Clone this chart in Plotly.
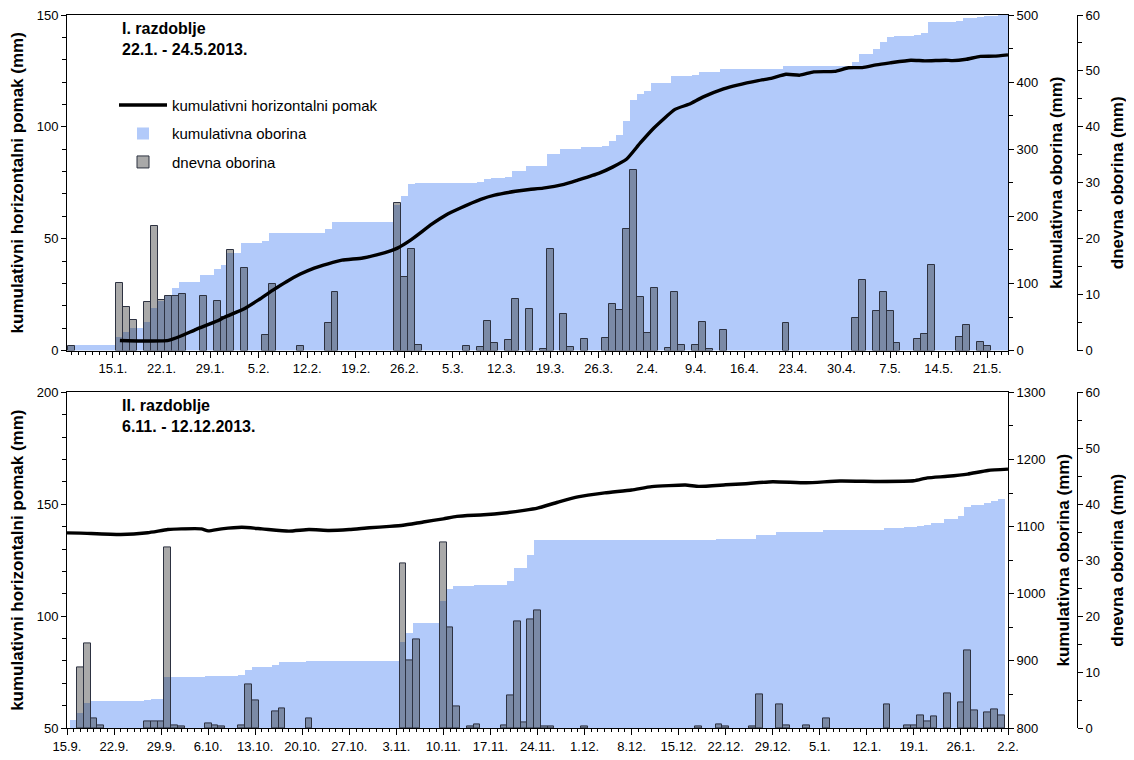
import plotly.graph_objects as go
import pandas as pd

# ---------------- Period I (2013) ----------------
p1_cum_start = "2013-01-09"
p1_cum = [
    # Jan 9-31
    8.0, 8.0, 8.0, 8.0, 8.0, 8.0, 8.0, 20.0, 27.8, 33.2, 33.2, 41.9, 64.2, 73.2, 82.9, 92.6,
    102.7, 102.7, 102.7, 112.4, 112.4, 121.3, 127.3,
    # Feb
    145.3, 145.3, 160.1, 160.1, 160.1, 162.9, 174.8, 174.8, 174.8, 174.8, 175.6, 175.6, 175.6, 175.6,
    180.5, 190.9, 190.9, 190.9, 190.9, 190.9, 190.9, 190.9, 190.9, 190.9, 217.2, 230.3, 248.4, 249.4,
    # Mar
    249.4, 249.4, 249.4, 249.4, 249.4, 249.4, 250.3, 250.3, 250.9, 255.5, 256.5, 256.5, 258.5, 267.5,
    267.5, 275.0, 275.0, 275.3, 293.0, 293.0, 299.8, 300.4, 300.4, 302.6, 302.6, 302.6, 305.0, 313.0,
    320.5, 342.0, 373.0,
    # Apr
    383.0, 386.5, 398.0, 398.0, 398.4, 408.5, 409.5, 409.5, 410.5, 415.5, 415.7, 415.7, 419.3, 419.3,
    419.3, 419.3, 419.3, 419.3, 419.3, 419.3, 419.3, 424.2, 424.2, 424.2, 424.2, 424.2, 424.2, 424.2,
    424.2, 424.2,
    # May 1-24
    424.2, 430.0, 442.6, 442.6, 449.8, 460.2, 467.0, 468.6, 468.6, 468.6, 470.8, 473.6, 489.0, 489.0,
    489.0, 489.0, 491.4, 496.0, 496.0, 497.6, 498.6, 499.2, 499.6, 500.0,
]
p1_daily_dates = [
    "2013-01-09", "2013-01-16", "2013-01-17", "2013-01-18", "2013-01-20", "2013-01-21", "2013-01-22",
    "2013-01-23", "2013-01-24", "2013-01-25", "2013-01-28", "2013-01-30", "2013-01-31", "2013-02-01",
    "2013-02-03", "2013-02-06", "2013-02-07", "2013-02-11", "2013-02-15", "2013-02-16", "2013-02-25",
    "2013-02-26", "2013-02-27", "2013-02-28", "2013-03-07", "2013-03-09", "2013-03-10", "2013-03-11",
    "2013-03-13", "2013-03-14", "2013-03-16", "2013-03-18", "2013-03-19", "2013-03-21", "2013-03-22",
    "2013-03-24", "2013-03-27", "2013-03-28", "2013-03-29", "2013-03-30", "2013-03-31", "2013-04-01",
    "2013-04-02", "2013-04-03", "2013-04-05", "2013-04-06", "2013-04-07", "2013-04-09", "2013-04-10",
    "2013-04-11", "2013-04-13", "2013-04-22", "2013-05-02", "2013-05-03", "2013-05-05", "2013-05-06",
    "2013-05-07", "2013-05-08", "2013-05-11", "2013-05-12", "2013-05-13", "2013-05-17", "2013-05-18",
    "2013-05-20", "2013-05-21",
]
p1_daily = [
    0.8, 12.0, 7.8, 5.4, 8.7, 22.3, 9.0,
    9.7, 9.7, 10.1, 9.7, 8.9, 6.0, 18.0,
    14.8, 2.8, 11.9, 0.8, 4.9, 10.4, 26.3,
    13.1, 18.1, 1.0, 0.9, 0.6, 5.3, 1.3,
    1.9, 9.2, 7.5, 0.3, 18.1, 6.6, 0.6,
    2.0, 2.3, 8.4, 7.3, 21.7, 32.2, 9.6,
    3.2, 11.2, 0.4, 10.4, 1.0, 1.0, 5.2,
    0.2, 3.7, 4.9, 5.9, 12.6, 7.1, 10.4,
    7.0, 1.4, 2.1, 3.0, 15.3, 2.4, 4.6,
    1.6, 0.9,
]
p1_disp_dates = [
    "2013-01-16", "2013-01-19", "2013-01-23", "2013-01-25", "2013-01-27", "2013-01-30", "2013-01-31",
    "2013-02-03", "2013-02-05", "2013-02-07", "2013-02-09", "2013-02-11", "2013-02-13", "2013-02-15",
    "2013-02-17", "2013-02-20", "2013-02-22", "2013-02-24", "2013-02-25", "2013-02-27", "2013-03-02",
    "2013-03-04", "2013-03-06", "2013-03-09", "2013-03-11", "2013-03-14", "2013-03-16", "2013-03-18",
    "2013-03-21", "2013-03-23", "2013-03-26", "2013-03-28", "2013-03-30", "2013-04-01", "2013-04-03",
    "2013-04-06", "2013-04-08", "2013-04-10", "2013-04-13", "2013-04-15", "2013-04-18", "2013-04-20",
    "2013-04-22", "2013-04-24", "2013-04-26", "2013-04-29", "2013-05-01", "2013-05-03", "2013-05-05",
    "2013-05-07", "2013-05-10", "2013-05-12", "2013-05-15", "2013-05-16", "2013-05-18", "2013-05-20",
    "2013-05-22", "2013-05-24",
]
p1_disp = [
    4.5, 4.3, 4.6, 6.8, 9.5, 13.2, 14.8,
    18.8, 22.7, 26.9, 30.8, 34.2, 36.9, 38.8,
    40.4, 41.4, 42.8, 44.6, 45.8, 49.6, 56.6,
    60.6, 63.6, 67.6, 69.5, 71.2, 72.0, 72.6,
    74.3, 76.2, 79.2, 82.0, 85.5, 92.8, 99.6,
    107.8, 110.1, 113.3, 117.0, 118.7, 120.7, 121.8,
    123.5, 123.1, 124.6, 124.8, 126.4, 126.5, 127.7,
    128.6, 129.8, 129.5, 129.8, 129.6, 130.2, 131.5,
    131.6, 132.2,
]

# ---------------- Period II (2013/2014) ----------------
p2_cum_start = "2013-09-16"
p2_cum = [
    # Sep 16-30
    812.0, 822.0, 837.0, 839.0, 839.5, 839.5, 839.5, 839.5, 839.5, 839.5, 839.5, 840.7, 841.9, 843.0, 875.2,
    # Oct
    875.7, 876.0, 876.0, 876.0, 876.0, 876.8, 877.3, 877.5, 877.5, 877.5, 878.0, 885.8, 890.7, 890.7,
    890.7, 893.6, 897.1, 897.1, 897.1, 897.1, 898.8, 898.8, 898.8, 898.8, 898.8, 898.8, 898.8, 898.8,
    898.8, 898.8, 898.8,
    # Nov
    898.8, 898.8, 898.8, 928.2, 940.3, 956.1, 956.1, 956.1, 956.1, 989.2, 1007.2, 1011.1, 1011.1, 1011.3,
    1011.9, 1011.9, 1011.9, 1011.9, 1012.3, 1018.2, 1037.3, 1038.3, 1057.7, 1078.8, 1079.0, 1079.2,
    1079.2, 1079.2, 1079.2, 1079.2,
    # Dec
    1079.4, 1079.4, 1079.4, 1079.4, 1079.4, 1079.4, 1079.4, 1079.4, 1079.4, 1079.4, 1079.4, 1079.4,
    1079.4, 1079.4, 1079.4, 1079.4, 1079.4, 1079.7, 1079.7, 1079.7, 1080.3, 1080.6, 1080.6, 1080.6,
    1080.6, 1080.8, 1086.8, 1086.8, 1086.8, 1091.0, 1091.5,
    # Jan
    1091.5, 1091.5, 1092.0, 1092.0, 1092.0, 1093.7, 1093.7, 1093.7, 1093.7, 1093.7, 1093.7, 1093.7,
    1093.7, 1093.7, 1097.9, 1097.9, 1097.9, 1098.3, 1098.8, 1101.1, 1102.2, 1104.2, 1104.2, 1110.4,
    1110.4, 1115.0, 1128.9, 1132.0, 1132.0, 1134.8, 1138.1,
    # Feb 1
    1140.4,
]
p2_daily_dates = [
    "2013-09-17", "2013-09-18", "2013-09-19", "2013-09-20", "2013-09-27", "2013-09-28", "2013-09-29",
    "2013-09-30", "2013-10-01", "2013-10-02", "2013-10-06", "2013-10-07", "2013-10-08", "2013-10-11",
    "2013-10-12", "2013-10-13", "2013-10-16", "2013-10-17", "2013-10-21", "2013-11-04", "2013-11-05",
    "2013-11-06", "2013-11-10", "2013-11-11", "2013-11-12", "2013-11-14", "2013-11-15", "2013-11-19",
    "2013-11-20", "2013-11-21", "2013-11-22", "2013-11-23", "2013-11-24", "2013-11-25", "2013-11-26",
    "2013-12-01", "2013-12-18", "2013-12-21", "2013-12-22", "2013-12-26", "2013-12-27", "2013-12-30",
    "2013-12-31", "2014-01-03", "2014-01-06", "2014-01-15", "2014-01-18", "2014-01-19", "2014-01-20",
    "2014-01-21", "2014-01-22", "2014-01-24", "2014-01-26", "2014-01-27", "2014-01-28", "2014-01-30",
    "2014-01-31", "2014-02-01",
]
p2_daily = [
    10.8, 15.1, 1.8, 0.5, 1.2, 1.2, 1.1,
    32.2, 0.5, 0.25, 0.8, 0.5, 0.2, 0.5,
    7.8, 4.9, 2.9, 3.5, 1.7, 29.4, 12.0,
    15.8, 33.1, 18.0, 3.9, 0.2, 0.6, 0.4,
    5.9, 19.1, 1.0, 19.4, 21.1, 0.2, 0.2,
    0.2, 0.3, 0.6, 0.3, 0.2, 6.0, 4.2,
    0.5, 0.5, 1.7, 4.2, 0.4, 0.5, 2.3,
    1.1, 2.0, 6.2, 4.6, 13.9, 3.2, 2.8,
    3.3, 2.3,
]
p2_disp_dates = [
    "2013-09-15", "2013-09-17", "2013-09-23", "2013-09-27", "2013-09-30", "2013-10-02", "2013-10-05",
    "2013-10-06", "2013-10-08", "2013-10-11", "2013-10-14", "2013-10-18", "2013-10-21", "2013-10-24",
    "2013-10-27", "2013-10-30", "2013-11-02", "2013-11-04", "2013-11-07", "2013-11-10", "2013-11-12",
    "2013-11-16", "2013-11-19", "2013-11-22", "2013-11-24", "2013-11-27", "2013-11-30", "2013-12-04",
    "2013-12-08", "2013-12-11", "2013-12-16", "2013-12-18", "2013-12-22", "2013-12-25", "2013-12-29",
    "2014-01-03", "2014-01-08", "2014-01-14", "2014-01-19", "2014-01-21", "2014-01-24", "2014-01-27",
    "2014-01-30", "2014-02-02",
]
p2_disp = [
    137.2, 137.1, 136.5, 137.3, 138.7, 139.0, 139.0,
    138.1, 139.0, 139.7, 139.0, 138.0, 138.7, 138.3,
    138.7, 139.5, 140.1, 140.6, 142.1, 143.5, 144.6,
    145.3, 146.1, 147.3, 148.3, 150.9, 153.3, 155.1,
    156.4, 157.9, 158.6, 158.0, 158.7, 159.2, 160.1,
    159.6, 160.4, 160.2, 160.5, 161.8, 162.5, 163.5,
    165.1, 165.7,
]

name_disp = "kumulativni horizontalni pomak"
name_cum = "kumulativna oborina"
name_daily = "dnevna oborina"
title_left = "kumulativni horizontalni pomak (mm)"
title_cum = "kumulativna oborina (mm)"
title_daily = "dnevna oborina (mm)"
label_p1 = "I. razdoblje<br>22.1. - 24.5.2013."
label_p2 = "II. razdoblje<br>6.11. - 12.12.2013."

# ---------------- styling ----------------
DAY = 86400000
BLUE = "rgb(178,202,250)"
GREY = "rgba(45,45,45,0.41)"
OUTL = "rgb(45,50,65)"
FONT = "Arial, Liberation Sans, sans-serif"

fig = go.Figure()

panels = [
    (p1_cum_start, p1_cum, p1_daily_dates, p1_daily, p1_disp_dates, p1_disp, "x", ("y", "y2", "y3"), True),
    (p2_cum_start, p2_cum, p2_daily_dates, p2_daily, p2_disp_dates, p2_disp, "x2", ("y4", "y5", "y6"), False),
]
for cs, cum, dd, dv, ld, lv, xa, (yc, yd, yl), leg in panels:
    fig.add_trace(go.Bar(
        x=pd.date_range(cs, periods=len(cum), freq="D"), y=cum, width=DAY,
        marker=dict(color=BLUE, line=dict(width=0)), name=name_cum,
        xaxis=xa, yaxis=yc, showlegend=leg, legendrank=2, legendgroup="c"))
    fig.add_trace(go.Bar(
        x=pd.to_datetime(dd), y=dv, width=DAY,
        marker=dict(color=GREY, line=dict(color=OUTL, width=1)), name=name_daily,
        xaxis=xa, yaxis=yd, showlegend=leg, legendrank=3, legendgroup="d"))
    fig.add_trace(go.Scatter(
        x=pd.to_datetime(ld), y=lv, mode="lines",
        line=dict(color="black", width=3.4, shape="spline", smoothing=0.5), name=name_disp,
        xaxis=xa, yaxis=yl, showlegend=leg, legendrank=1, legendgroup="l"))

# page body has an 8px margin: figure sized so that it fills the 1134x760 window
OFF = 8
W, H = 1134 - OFF, 760 - OFF
L, R, T, B = 67 - OFF, 32, 14 - OFF, 30
pw, ph = W - L - R, H - T - B
xd = 941 / pw
top_dom = [(H - B - (351 - OFF)) / ph, 1.0]
bot_dom = [0.0, (H - B - (393 - OFF)) / ph]
daily_pos = (1077 - OFF - L) / pw

tickfont = dict(family=FONT, size=13, color="black")
titlefont = dict(family=FONT, size=17, color="black", weight="bold")

def xax(r0, r1, t0, anchor):
    return dict(domain=[0, xd], anchor=anchor, type="date", range=[r0, r1],
                tick0=t0, dtick=7 * DAY, tickformat="%-d.%-m.", ticks="outside", ticklen=6,
                tickcolor="black", showline=True, linecolor="black", linewidth=1, mirror=True,
                showgrid=False, zeroline=False, tickfont=tickfont, ticklabeloverflow="allow",
                minor=dict(dtick=DAY, ticks="outside", ticklen=3, tickcolor="black", showgrid=False))

def yax(dom, rng, dt, mdt, side, title, standoff, anchor="x", overlay=None, position=None):
    d = dict(range=rng, dtick=dt, ticks="outside", ticklen=5, tickcolor="black",
             showline=True, linecolor="black", linewidth=1, showgrid=False, zeroline=False,
             side=side, tickfont=tickfont, automargin=False, ticklabeloverflow="allow",
             title=dict(text=title, font=titlefont, standoff=standoff),
             minor=dict(dtick=mdt, ticks="outside", ticklen=4, tickcolor="black", showgrid=False))
    if overlay:
        d["overlaying"] = overlay
    else:
        d["domain"] = dom
    if position is not None:
        d["anchor"] = "free"
        d["position"] = position
    else:
        d["anchor"] = anchor
    return d

def px_x(x):
    return (x - OFF - L) / pw

def px_y(y):
    return (H - B - (y - OFF)) / ph

fig.update_layout(
    width=W, height=H, margin=dict(l=L, r=R, t=T, b=B),
    paper_bgcolor="white", plot_bgcolor="rgba(0,0,0,0)",
    font=dict(family=FONT, color="black"),
    barmode="overlay", bargap=0,
    xaxis=xax("2013-01-08 09:00", "2013-05-24 00:00", "2013-01-15", "y"),
    xaxis2=xax("2013-09-15 00:00", "2014-02-02 00:00", "2013-09-15", "y4"),
    yaxis=yax(top_dom, [0, 500], 100, 50, "right", title_cum, 12, anchor="x"),
    yaxis2=yax(None, [0, 60], 10, 5, "right", title_daily, 12, overlay="y", position=daily_pos),
    yaxis3=yax(None, [0, 150], 50, 10, "left", title_left, 8, anchor="x", overlay="y"),
    yaxis4=yax(bot_dom, [800, 1300], 100, 50, "right", title_cum, 12, anchor="x2"),
    yaxis5=yax(None, [0, 60], 10, 5, "right", title_daily, 12, overlay="y4", position=daily_pos),
    yaxis6=yax(None, [50, 200], 50, 10, "left", title_left, 8, anchor="x2", overlay="y4"),
    legend=dict(x=px_x(114), y=px_y(88), xanchor="left", yanchor="top",
                bgcolor="rgba(0,0,0,0)", font=dict(family=FONT, size=15, color="black"),
                traceorder="grouped", tracegroupgap=6, itemwidth=48),
    annotations=[
        dict(text=label_p1, xref="paper", yref="paper", x=px_x(120), y=px_y(17),
             xanchor="left", yanchor="top", align="left", showarrow=False,
             font=dict(family=FONT, size=16, color="black", weight="bold")),
        dict(text=label_p2, xref="paper", yref="paper", x=px_x(120), y=px_y(396),
             xanchor="left", yanchor="top", align="left", showarrow=False,
             font=dict(family=FONT, size=16, color="black", weight="bold")),
    ],
)

fig.write_html("out.html")
